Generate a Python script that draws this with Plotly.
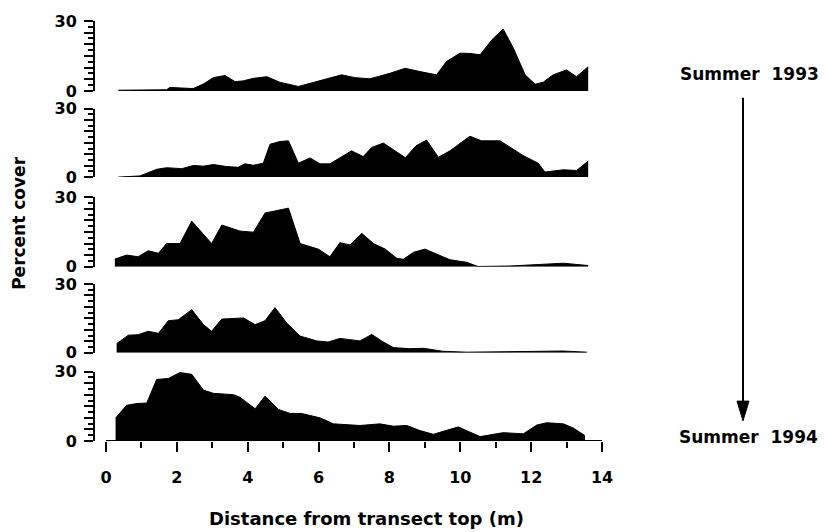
import plotly.graph_objects as go
from plotly.subplots import make_subplots

# ---- data (distance in m, percent cover) ----
x1 = [0.35,1.71,1.8,2.46,2.75,3.03,3.36,3.64,3.87,4.16,4.54,4.91,5.43,5.85,6.23,6.65,7.03,7.45,8.02,8.44,8.86,9.33,9.61,9.99,10.27,10.56,10.89,11.21,11.5,11.83,12.11,12.34,12.62,13.0,13.28,13.61]
y1 = [0.3,0.5,1.5,1,3,5.7,6.6,4,4.3,5.4,6.1,3.7,1.9,3.7,5,6.9,5.7,5.2,7.6,9.7,8.3,6.9,12.6,16.2,16.1,15.5,21.9,26.6,18.3,6.9,2.9,3.7,6.9,9,6.1,10.4]

x2 = [0.35,0.96,1.43,1.71,2.14,2.47,2.75,3.03,3.41,3.73,3.92,4.16,4.44,4.63,4.91,5.15,5.43,5.76,6.04,6.32,6.93,7.26,7.5,7.83,8.45,8.75,9.05,9.38,9.71,10.27,10.6,11.12,11.78,12.2,12.39,12.91,13.28,13.61]
y2 = [0,0.5,3.4,4.1,3.7,5.1,4.8,5.5,4.6,4.3,5.8,5.2,6.1,14.4,15.6,15.9,6.1,8.4,5.8,5.8,11.5,9,13,14.9,8.5,13.7,16.2,8.7,11.5,17.9,15.9,15.9,9.4,6.1,2.2,3.2,2.9,7]

x3 = [0.25,0.58,0.91,1.19,1.48,1.71,2.09,2.42,2.98,3.27,3.78,4.16,4.49,5.15,5.48,5.99,6.32,6.6,6.89,7.22,7.55,7.88,8.21,8.39,8.68,9.0,9.71,10.18,10.5,11.4,12.91,13.61]
y3 = [3.3,5,4.3,6.9,5.8,10,10,19.7,10,18,15.4,14.9,23.2,25.3,10,7.6,4.3,10.4,9.4,14.4,10,7.6,3.6,3.2,6.2,7.6,3,1.9,0.1,0.3,1.5,0.5]

x4 = [0.3,0.63,0.91,1.19,1.48,1.76,2.04,2.42,2.75,2.98,3.27,3.88,4.21,4.49,4.77,5.1,5.48,5.95,6.27,6.6,7.17,7.5,7.83,8.11,8.58,8.96,9.5,10.18,12.9,13.57]
y4 = [4,7.7,7.9,9.4,8.5,14,14.4,18.8,12.3,9.4,14.7,15.2,12.3,14,19.7,13,7.3,5.2,4.7,6.3,5.2,8,4.7,2.3,1.8,2,0.7,0.3,0.8,0.3]

x5 = [0.27,0.58,0.87,1.15,1.43,1.76,2.09,2.42,2.75,3.03,3.6,3.78,4.21,4.49,4.87,5.2,5.52,6.04,6.42,7.17,7.73,8.11,8.49,8.86,9.24,9.94,10.56,11.21,11.78,12.16,12.44,12.91,13.19,13.52]
y5 = [9.9,15.4,16.2,16.4,26.6,27,29.6,28.8,22,20.6,20,18.9,13.9,19.4,13.6,11.9,11.9,10,7.4,6.7,7.4,6.4,6.7,4.5,2.9,6.1,1.9,3.6,3.1,6.9,7.9,7.4,5.6,2.3]

panels = [(x1, y1), (x2, y2), (x3, y3), (x4, y4), (x5, y5)]
xticks = list(range(0, 15, 2))
ytick_vals = [0, 5, 10, 15, 20, 25, 30]
ytick_text = ["0", "", "", "", "", "", "30"]
top_label = "Summer  1993"
bottom_label = "Summer  1994"
x_title = "Distance from transect top (m)"
y_title = "Percent cover"

FONT = "DejaVu Sans"

# pixel geometry -> domains
W, H = 825, 532
L, R = 95, 602
T, B = 15, 441.5
tops = [15, 104, 194, 282, 371]
bots = [86, 173.5, 264.5, 352, 441.5]
ph = B - T

fig = make_subplots(rows=5, cols=1, shared_xaxes=True, vertical_spacing=0.02)

for i, (xs, ys) in enumerate(panels, start=1):
    fig.add_trace(go.Scatter(x=xs, y=ys, mode="lines", fill="tozeroy",
                             fillcolor="black", line=dict(color="black", width=1),
                             hoverinfo="skip", showlegend=False), row=i, col=1)
    dom = [(B - bots[i-1]) / ph, (B - tops[i-1]) / ph]
    yk = "yaxis" if i == 1 else f"yaxis{i}"
    xk = "xaxis" if i == 1 else f"xaxis{i}"
    fig.update_layout(**{
        yk: dict(domain=dom, range=[0, 30], tickvals=ytick_vals, ticktext=ytick_text,
                 ticks="outside", ticklen=9, tickwidth=1.5, tickcolor="black",
                 minor=dict(dtick=2.5, tick0=0, ticks="outside", ticklen=5,
                            tickwidth=1.5, tickcolor="black"),
                 showline=True, linecolor="black", linewidth=2,
                 showgrid=False, zeroline=False, ticklabelstandoff=4,
                 tickfont=dict(family=FONT, size=16, color="black", weight="bold")),
        xk: dict(range=[-(106 - L) / ((R - 106) / 14), 14], showgrid=False, zeroline=False,
                 showline=False, ticks="", showticklabels=False),
    })

fig.update_layout(xaxis5=dict(
    range=[-(106 - L) / ((R - 106) / 14), 14], showgrid=False, zeroline=False, showline=False,
    tickvals=xticks, ticks="outside", ticklen=10, tickwidth=2, tickcolor="black",
    minor=dict(dtick=1, tick0=0, ticks="outside", ticklen=6, tickwidth=2, tickcolor="black"),
    showticklabels=True, ticklabelstandoff=12,
    tickfont=dict(family=FONT, size=16, color="black", weight="bold")))

# x-axis baseline from 0 to 14
fig.add_shape(type="line", xref="x5", yref="y5", x0=0, x1=14, y0=0, y1=0,
              line=dict(color="black", width=2))

def px_x(p):
    return (p - L) / (R - L)

def px_y(p):
    return (B - p) / ph

# arrow
ax = 743
fig.add_shape(type="line", xref="paper", yref="paper", x0=px_x(ax), x1=px_x(ax),
              y0=px_y(93), y1=px_y(405), line=dict(color="black", width=2))
fig.add_shape(type="path", xref="paper", yref="paper",
              path=f"M {px_x(ax-6)} {px_y(401)} L {px_x(ax+6)} {px_y(401)} L {px_x(ax)} {px_y(421)} Z",
              fillcolor="black", line=dict(color="black", width=1))

ann_font = dict(family=FONT, size=17, color="black", weight="bold")
fig.add_annotation(text=top_label, xref="paper", yref="paper", x=px_x(749), y=px_y(69),
                   showarrow=False, font=ann_font, xanchor="center", yanchor="middle")
fig.add_annotation(text=bottom_label, xref="paper", yref="paper", x=px_x(748), y=px_y(437),
                   showarrow=False, font=ann_font, xanchor="center", yanchor="middle")
fig.add_annotation(text=x_title, xref="paper", yref="paper", x=px_x(366), y=px_y(520),
                   showarrow=False, font=dict(family=FONT, size=18, color="black", weight="bold"),
                   xanchor="center", yanchor="middle")
fig.add_annotation(text=y_title, xref="paper", yref="paper", x=px_x(19), y=px_y(221),
                   showarrow=False, textangle=-90,
                   font=dict(family=FONT, size=17, color="black", weight="bold"),
                   xanchor="center", yanchor="middle")

fig.update_layout(width=W, height=H, margin=dict(l=L, r=W - R, t=T, b=H - B),
                  plot_bgcolor="white", paper_bgcolor="white")

fig.write_html("out.html")
